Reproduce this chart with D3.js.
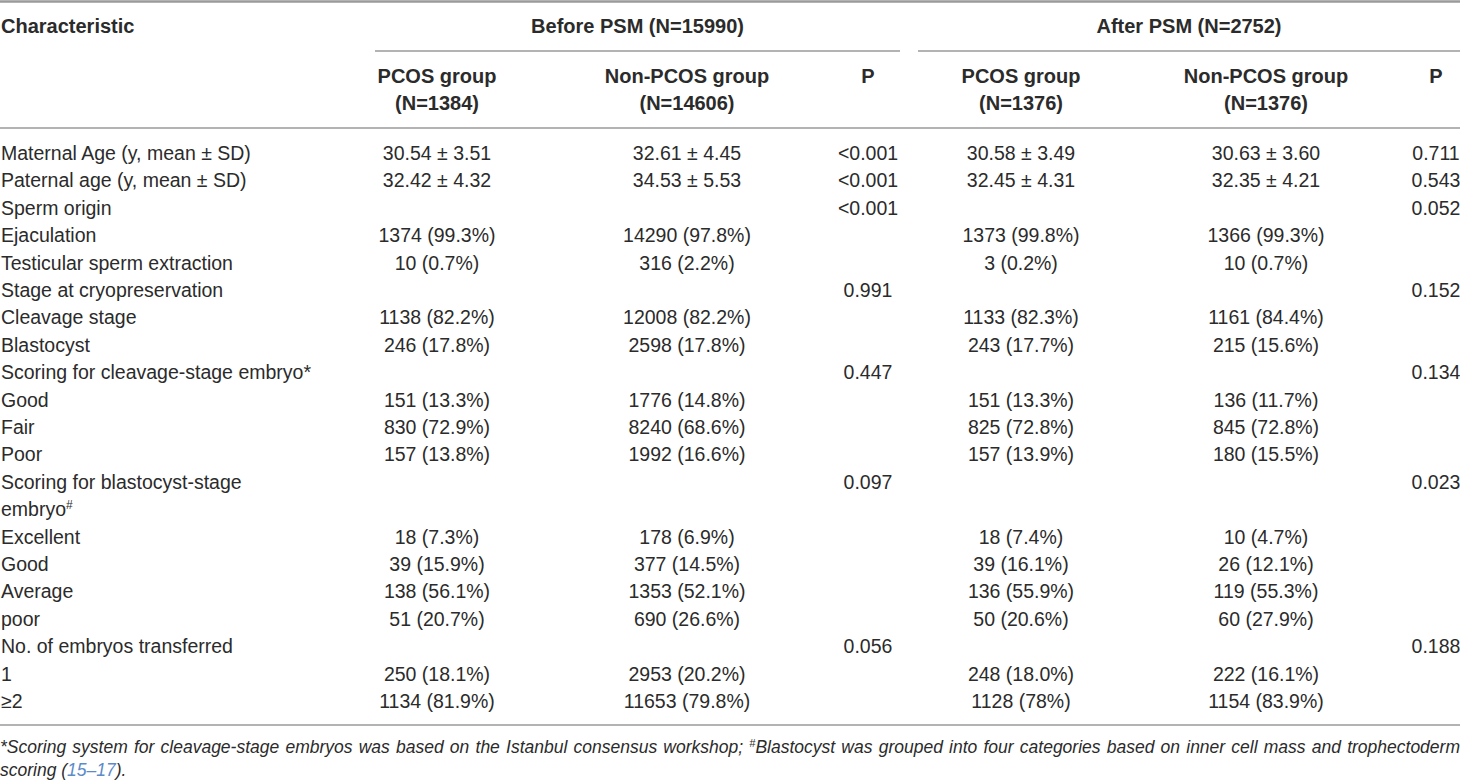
<!DOCTYPE html>
<html>
<head>
<meta charset="utf-8">
<script src="https://cdn.jsdelivr.net/npm/d3@7"></script>
<style>
  body { margin: 0; background: #fff; }
  svg { display: block; }
  text { font-family: "Liberation Sans", Arial, Helvetica, sans-serif; fill: #2b2b2b; }
</style>
</head>
<body>
<svg id="chart"></svg>
<script>
// table content
var rowLabels = [
  "Maternal Age (y, mean \u00b1 SD)", "Paternal age (y, mean \u00b1 SD)", "Sperm origin",
  "Ejaculation", "Testicular sperm extraction", "Stage at cryopreservation",
  "Cleavage stage", "Blastocyst", "Scoring for cleavage-stage embryo*",
  "Good", "Fair", "Poor", ["Scoring for blastocyst-stage", "embryo#"],
  "Excellent", "Good", "Average", "poor", "No. of embryos transferred", "1", "\u22652"
];
var beforePcos = ["30.54 \u00b1 3.51", "32.42 \u00b1 4.32", "", "1374 (99.3%)", "10 (0.7%)", "",
  "1138 (82.2%)", "246 (17.8%)", "", "151 (13.3%)", "830 (72.9%)", "157 (13.8%)", "",
  "18 (7.3%)", "39 (15.9%)", "138 (56.1%)", "51 (20.7%)", "", "250 (18.1%)", "1134 (81.9%)"];
var beforeNon = ["32.61 \u00b1 4.45", "34.53 \u00b1 5.53", "", "14290 (97.8%)", "316 (2.2%)", "",
  "12008 (82.2%)", "2598 (17.8%)", "", "1776 (14.8%)", "8240 (68.6%)", "1992 (16.6%)", "",
  "178 (6.9%)", "377 (14.5%)", "1353 (52.1%)", "690 (26.6%)", "", "2953 (20.2%)", "11653 (79.8%)"];
var beforeP = ["<0.001", "<0.001", "<0.001", "", "", "0.991", "", "", "0.447", "", "", "", "0.097",
  "", "", "", "", "0.056", "", ""];
var afterPcos = ["30.58 \u00b1 3.49", "32.45 \u00b1 4.31", "", "1373 (99.8%)", "3 (0.2%)", "",
  "1133 (82.3%)", "243 (17.7%)", "", "151 (13.3%)", "825 (72.8%)", "157 (13.9%)", "",
  "18 (7.4%)", "39 (16.1%)", "136 (55.9%)", "50 (20.6%)", "", "248 (18.0%)", "1128 (78%)"];
var afterNon = ["30.63 \u00b1 3.60", "32.35 \u00b1 4.21", "", "1366 (99.3%)", "10 (0.7%)", "",
  "1161 (84.4%)", "215 (15.6%)", "", "136 (11.7%)", "845 (72.8%)", "180 (15.5%)", "",
  "10 (4.7%)", "26 (12.1%)", "119 (55.3%)", "60 (27.9%)", "", "222 (16.1%)", "1154 (83.9%)"];
var afterP = ["0.711", "0.543", "0.052", "", "", "0.152", "", "", "0.134", "", "", "", "0.023",
  "", "", "", "", "0.188", "", ""];

var groupHeads = ["Before PSM (N=15990)", "After PSM (N=2752)"];
var colKeys = ["bPcos", "bNon", "bP", "aPcos", "aNon", "aP"];
var colHeads = [["PCOS group", "(N=1384)"], ["Non-PCOS group", "(N=14606)"], ["P"],
                ["PCOS group", "(N=1376)"], ["Non-PCOS group", "(N=1376)"], ["P"]];
var colValues = [beforePcos, beforeNon, beforeP, afterPcos, afterNon, afterP];

var W = 1460, H = 783;
var svg = d3.select("#chart").attr("width", W).attr("height", H);

// column centres and line baselines
var xCol = d3.scaleOrdinal().domain(colKeys).range([437, 687, 868, 1021, 1266, 1436]);
var xGroup = d3.scaleOrdinal().domain(groupHeads).range([[375, 900], [918, 1460]]);

// line index of each row (two-line labels take two lines)
var lineIdx = [], n = 0;
rowLabels.forEach(function(l) { lineIdx.push(n); n += Array.isArray(l) ? l.length : 1; });
var yLine = d3.scaleLinear().domain([0, n - 1]).range([160, 708]);

var fs = 19.5, fsHead = 20;
var ruleColor = "#9a9a9a";

// rules
svg.append("line").attr("x1", 0).attr("x2", W).attr("y1", 1.5).attr("y2", 1.5)
  .style("stroke", ruleColor).style("stroke-width", 2.5);
svg.selectAll(".span").data(groupHeads).enter().append("line")
  .attr("x1", function(d) { return xGroup(d)[0]; })
  .attr("x2", function(d) { return xGroup(d)[1]; })
  .attr("y1", 51).attr("y2", 51)
  .style("stroke", ruleColor).style("stroke-width", 1.5);
svg.append("line").attr("x1", 0).attr("x2", W).attr("y1", 128).attr("y2", 128)
  .style("stroke", ruleColor).style("stroke-width", 1.5);
svg.append("line").attr("x1", 0).attr("x2", W).attr("y1", 725).attr("y2", 725)
  .style("stroke", ruleColor).style("stroke-width", 1.5);

// header
svg.append("text").attr("x", 1).attr("y", 33)
  .style("font-size", fsHead).style("font-weight", "bold").text("Characteristic");
svg.selectAll(".ghead").data(groupHeads).enter().append("text")
  .attr("x", function(d) { return (xGroup(d)[0] + xGroup(d)[1]) / 2; })
  .attr("y", 33).attr("text-anchor", "middle")
  .style("font-size", fsHead).style("font-weight", "bold").text(function(d) { return d; });

colKeys.forEach(function(k, i) {
  svg.selectAll(".chead" + i).data(colHeads[i]).enter().append("text")
    .attr("x", xCol(k)).attr("y", function(d, j) { return 83 + j * 27; })
    .attr("text-anchor", "middle")
    .style("font-size", fsHead).style("font-weight", "bold").text(function(d) { return d; });
});

// row labels
rowLabels.forEach(function(l, i) {
  var lines = Array.isArray(l) ? l : [l];
  lines.forEach(function(s, j) {
    var t = svg.append("text").attr("x", 1).attr("y", yLine(lineIdx[i] + j)).style("font-size", fs);
    if (s.slice(-1) === "#") {
      t.append("tspan").text(s.slice(0, -1));
      t.append("tspan").attr("dy", -7).style("font-size", 12).text("#");
    } else {
      t.text(s);
    }
  });
});

// cell values
colKeys.forEach(function(k, i) {
  svg.selectAll(".cell" + i).data(colValues[i]).enter().append("text")
    .attr("x", xCol(k))
    .attr("y", function(d, r) { return yLine(lineIdx[r]); })
    .attr("text-anchor", "middle").style("font-size", fs)
    .text(function(d) { return d; });
});

// footnote
var note1 = svg.append("text").attr("x", 0).attr("y", 753)
  .style("font-size", 17.5).style("font-style", "italic");
note1.append("tspan").text("*Scoring system for cleavage-stage embryos was based on the Istanbul consensus workshop; ");
note1.append("tspan").attr("dy", -6).style("font-size", 11).text("#");
note1.append("tspan").attr("dy", 6).text("Blastocyst was grouped into four categories based on inner cell mass and trophectoderm");
var natural = note1.node().getComputedTextLength();
var spaces = note1.text().split(" ").length - 1;
note1.style("word-spacing", ((W - natural) / spaces) + "px");

var note2 = svg.append("text").attr("x", 0).attr("y", 776)
  .style("font-size", 17.5).style("font-style", "italic");
note2.append("tspan").text("scoring (");
note2.append("tspan").style("fill", "#5b8bc9").text("15\u201317");
note2.append("tspan").text(").");
</script>
</body>
</html>
